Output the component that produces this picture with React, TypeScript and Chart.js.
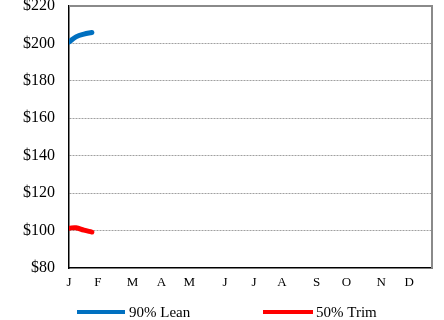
import React, { useEffect, useRef } from "react";
import { Chart, registerables } from "chart.js";

Chart.register(...registerables);

const monthLabels = ["J", "F", "M", "A", "M", "J", "J", "A", "S", "O", "N", "D"];
const monthTickDays = [0, 29, 64, 93, 121, 157, 186, 214, 249, 279, 314, 342];
const seriesDays = [0, 7, 15, 23];
const leanPrices = [200.8, 203.5, 205.0, 205.8];
const trimPrices = [101.3, 101.5, 100.2, 99.2];
const yTicks = [80, 100, 120, 140, 160, 180, 200, 220];

const FONT = "'Liberation Serif', 'Times New Roman', serif";

export default function App() {
  const ref = useRef<HTMLCanvasElement | null>(null);

  useEffect(() => {
    document.body.style.margin = "0";
    const canvas = ref.current;
    if (!canvas) return;

    const frame = {
      id: "frame",
      afterDatasetsDraw(chart: any) {
        const { ctx, chartArea } = chart;
        const { left, right, top, bottom } = chartArea;
        ctx.save();
        ctx.strokeStyle = "#8a8a8a";
        ctx.lineWidth = 2;
        ctx.beginPath();
        ctx.moveTo(left, top);
        ctx.lineTo(right, top);
        ctx.lineTo(right, bottom);
        ctx.stroke();
        ctx.restore();
      },
    };

    const legend = {
      id: "customLegend",
      afterDraw(chart: any) {
        const { ctx } = chart;
        const items = [
          { x: 77, w: 48, tx: 129 },
          { x: 263, w: 50, tx: 316 },
        ];
        const y = 312;
        ctx.save();
        ctx.font = `15px ${FONT}`;
        ctx.textBaseline = "middle";
        ctx.textAlign = "left";
        chart.data.datasets.forEach((ds: any, i: number) => {
          const it = items[i];
          ctx.strokeStyle = ds.borderColor;
          ctx.lineWidth = 4;
          ctx.lineCap = "butt";
          ctx.beginPath();
          ctx.moveTo(it.x, y);
          ctx.lineTo(it.x + it.w, y);
          ctx.stroke();
          ctx.fillStyle = "#000";
          ctx.fillText(ds.label, it.tx, y + 1);
        });
        ctx.restore();
      },
    };

    const chart = new Chart(canvas, {
      type: "line",
      data: {
        datasets: [
          {
            label: "90% Lean",
            data: seriesDays.map((d, i) => ({ x: d, y: leanPrices[i] })),
            borderColor: "#0070C0",
            backgroundColor: "#0070C0",
            borderWidth: 5,
            pointRadius: 0,
            tension: 0.4,
            borderCapStyle: "round",
          },
          {
            label: "50% Trim",
            data: seriesDays.map((d, i) => ({ x: d, y: trimPrices[i] })),
            borderColor: "#FF0000",
            backgroundColor: "#FF0000",
            borderWidth: 5,
            pointRadius: 0,
            tension: 0.4,
            borderCapStyle: "round",
          },
        ],
      },
      options: {
        responsive: false,
        animation: false,
        devicePixelRatio: 1,
        layout: { padding: { left: 0, right: 12, top: 6, bottom: 30 } },
        plugins: {
          legend: { display: false },
          tooltip: { enabled: false },
        },
        scales: {
          x: {
            type: "linear",
            min: 0,
            max: 365,
            afterBuildTicks: (scale: any) => {
              scale.ticks = monthTickDays.map((v) => ({ value: v }));
            },
            afterFit: (scale: any) => {
              scale.height = 22;
              scale.paddingLeft = 0;
              scale.paddingRight = 0;
            },
            ticks: {
              autoSkip: false,
              maxRotation: 0,
              padding: 7,
              color: "#000",
              font: { family: FONT, size: 13 },
              callback: (_v: any, i: number) => monthLabels[i],
            },
            grid: { display: false, drawTicks: false },
            border: { display: true, color: "#000", width: 1.5 },
          },
          y: {
            min: 80,
            max: 220,
            afterBuildTicks: (scale: any) => {
              scale.ticks = yTicks.map((v) => ({ value: v }));
            },
            afterFit: (scale: any) => {
              scale.width = 69;
              scale.paddingTop = 0;
              scale.paddingBottom = 0;
            },
            ticks: {
              padding: 14,
              color: "#000",
              font: { family: FONT, size: 16 },
              callback: (v: any) => "$" + v,
            },
            grid: {
              drawTicks: false,
              color: (c: any) =>
                c.tick && (c.tick.value === 80 || c.tick.value === 220)
                  ? "rgba(0,0,0,0)"
                  : "#a0a0a0",
              lineWidth: 1,
            },
            border: { display: true, color: "#000", width: 1.5, dash: [2, 1] },
          },
        },
      },
      plugins: [frame, legend],
    } as any);

    return () => chart.destroy();
  }, []);

  return (
    <div style={{ width: 444, height: 320 }}>
      <canvas ref={ref} width={444} height={320} style={{ display: "block" }} />
    </div>
  );
}
